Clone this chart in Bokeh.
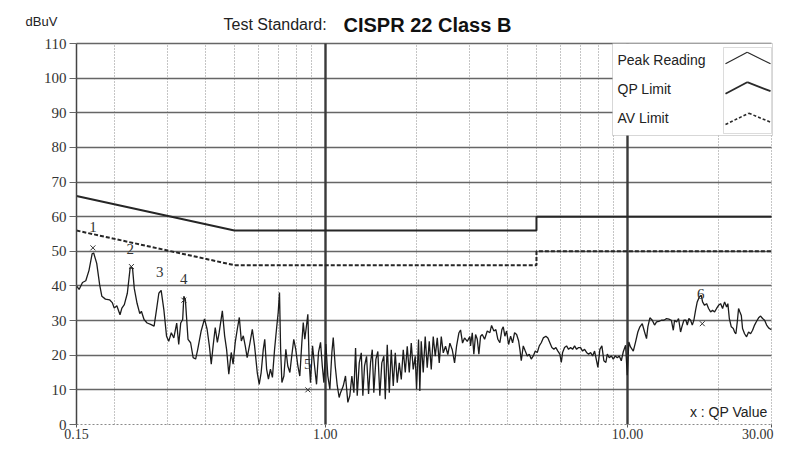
import math
from bokeh.plotting import figure
from bokeh.models import (FixedTicker, Grid, Label, BoxAnnotation, Arrow,
                          CustomJSTickFormatter)
from bokeh.core.properties import value
from bokeh.embed import file_html
from bokeh.resources import INLINE

# ---------------- data ----------------
freq_mhz = [
    0.150, 0.153, 0.157, 0.161, 0.165, 0.169, 0.171, 0.175, 0.179, 0.182, 0.187, 0.193,
    0.197, 0.200, 0.204, 0.209, 0.212, 0.216, 0.221, 0.226, 0.230, 0.233, 0.238, 0.243,
    0.246, 0.251, 0.257, 0.264, 0.271, 0.276, 0.281, 0.286, 0.292, 0.298, 0.303, 0.309,
    0.315, 0.322, 0.327, 0.332, 0.337, 0.340, 0.344, 0.351, 0.358, 0.365, 0.372, 0.378,
    0.388, 0.398,
    0.406, 0.413, 0.419, 0.425, 0.432, 0.439, 0.445, 0.456, 0.464, 0.471, 0.479, 0.488,
    0.495, 0.503, 0.511, 0.519, 0.527, 0.535, 0.543, 0.551, 0.562, 0.573, 0.583, 0.595,
    0.604, 0.613, 0.623, 0.630, 0.639, 0.648, 0.658, 0.668, 0.679, 0.689, 0.698, 0.705,
    0.711, 0.718, 0.729, 0.740, 0.751, 0.763, 0.774, 0.786, 0.798, 0.811, 0.823, 0.836,
    0.845, 0.855, 0.866, 0.875, 0.884, 0.893, 0.907, 0.921, 0.935, 0.949, 0.964, 0.977,
    0.989, 1.004, 1.019, 1.035, 1.051, 1.062, 1.078, 1.095, 1.111, 1.123,
    1.146, 1.166, 1.187, 1.205, 1.224, 1.243, 1.259, 1.275, 1.295, 1.315, 1.331, 1.348,
    1.369, 1.390, 1.411, 1.430, 1.447, 1.470, 1.492, 1.515, 1.538, 1.562, 1.579, 1.603,
    1.628, 1.653, 1.678, 1.704, 1.730, 1.757, 1.784, 1.811, 1.839, 1.867, 1.896, 1.925,
    1.954, 1.984, 2.004, 2.035, 2.055, 2.077, 2.109, 2.141, 2.174, 2.208, 2.242, 2.276,
    2.311, 2.347, 2.383, 2.420, 2.457, 2.500, 2.544, 2.584, 2.631, 2.678, 2.719, 2.767,
    2.803, 2.846, 2.890, 2.950, 3.009,
    3.025, 3.065, 3.102, 3.143, 3.184, 3.223, 3.265, 3.308, 3.367, 3.436, 3.505, 3.551,
    3.614, 3.669, 3.725, 3.783, 3.841, 3.882, 3.930, 3.981, 4.043, 4.105, 4.168, 4.232,
    4.298, 4.364, 4.406, 4.453, 4.521, 4.591, 4.661, 4.733, 4.805, 4.880, 4.955, 5.031,
    5.108, 5.186, 5.267, 5.372, 5.455, 5.538, 5.623, 5.710, 5.798, 5.887, 5.977, 6.042,
    6.102, 6.194, 6.289, 6.386, 6.485, 6.584, 6.686, 6.788, 6.894, 6.998, 7.106, 7.215,
    7.325, 7.440, 7.554, 7.670, 7.787, 7.907, 7.986, 8.108, 8.233, 8.359, 8.487, 8.579,
    8.710, 8.844, 8.981, 9.119, 9.259, 9.400, 9.544,
    9.692, 9.863, 9.991, 10.11, 10.24, 10.46, 10.64, 10.83, 11.00, 11.20, 11.40, 11.57,
    11.69, 11.87, 12.09, 12.30, 12.49, 12.71, 12.95, 13.21, 13.48, 13.72, 13.98, 14.19,
    14.33, 14.55, 14.77, 15.00, 15.15, 15.38, 15.62, 15.79, 15.98, 16.19, 16.40, 16.60,
    16.82, 17.03, 17.30, 17.56, 17.74, 18.01, 18.29, 18.57, 18.86, 19.14, 19.44, 19.74,
    20.04, 20.35, 20.66, 20.98, 21.30, 21.51, 21.75, 22.08, 22.42, 22.64, 22.87, 23.11,
    23.34, 23.58, 23.83, 24.06, 24.43, 24.81, 25.19, 25.58, 25.97, 26.37, 26.78, 27.19,
    27.61, 28.03, 28.46, 28.91, 29.34, 29.79, 30.00,
]
level_dbuv = [
    40.0, 39.0, 41.0, 41.5, 44.5, 49.3, 49.5, 46.5, 40.3, 37.0, 36.2, 36.0,
    35.2, 33.6, 34.3, 31.7, 33.6, 34.6, 37.9, 45.5, 45.0, 39.3, 35.0, 32.0,
    32.7, 30.3, 29.3, 28.9, 28.4, 33.1, 37.9, 38.7, 33.1, 25.5, 24.0, 26.5,
    25.0, 29.3, 23.1, 29.3, 30.3, 37.0, 36.0, 24.6, 23.6, 19.3, 18.9, 21.7,
    27.0, 30.5,
    27.5, 22.7, 17.4, 22.7, 28.0, 23.7, 26.5, 32.8, 25.6, 21.7, 14.5, 20.8,
    17.4, 23.7, 27.5, 30.9, 24.1, 25.6, 22.7, 19.3, 23.2, 27.5, 22.7, 15.0,
    11.6, 15.0, 21.7, 24.6, 16.0, 13.1, 16.0, 13.6, 21.7, 27.5, 32.3, 38.1,
    21.7, 12.1, 14.0, 21.7, 16.9, 15.0, 19.8, 24.6, 21.7, 16.9, 14.0, 23.7,
    29.4, 24.6, 28.5, 31.8, 17.9, 12.1, 22.7, 16.9, 11.6, 20.8, 23.7, 16.9,
    12.1, 23.2, 14.0, 10.2, 20.8, 25.1, 16.9, 11.2, 7.8, 9.2,
    11.1, 14.0, 6.4, 8.3, 14.0, 9.2, 22.1, 8.3, 17.8, 20.7, 8.3, 16.9,
    19.7, 8.8, 17.8, 21.6, 9.2, 18.8, 21.1, 8.3, 17.8, 19.7, 7.3, 23.0,
    9.2, 21.6, 11.1, 20.7, 12.1, 17.8, 13.0, 21.6, 15.0, 22.6, 15.0, 23.5,
    15.9, 19.7, 10.2, 24.5, 9.7, 24.0, 15.0, 25.4, 16.4, 24.0, 15.9, 25.4,
    19.7, 25.0, 17.8, 25.4, 20.7, 22.6, 20.2, 23.5, 21.6, 17.8, 22.6, 26.4,
    27.3, 23.5, 25.0, 24.0, 25.4,
    22.7, 26.5, 20.3, 26.0, 24.6, 20.3, 25.5, 26.0, 24.6, 27.0, 26.5, 28.6,
    27.0, 27.4, 24.6, 23.6, 27.4, 28.2, 25.5, 27.0, 23.1, 25.5, 23.6, 26.5,
    26.0, 24.1, 21.7, 18.4, 22.7, 21.2, 19.8, 20.3, 18.9, 19.8, 21.2, 20.8,
    22.7, 23.6, 25.0, 25.5, 25.0, 23.6, 22.2, 21.7, 22.2, 21.2, 20.3, 17.9,
    20.8, 22.2, 22.7, 21.7, 22.2, 21.7, 22.7, 21.7, 22.2, 22.2, 21.2, 21.7,
    20.8, 20.3, 20.8, 19.8, 21.2, 18.4, 16.5, 21.7, 22.7, 18.4, 17.9, 20.3,
    19.3, 19.8, 18.9, 19.8, 19.3, 19.8, 18.4,
    21.0, 22.9, 14.2, 23.8, 22.4, 21.2, 23.8, 26.7, 28.2, 29.1, 26.7, 24.8,
    28.2, 30.8, 30.1, 28.7, 29.6, 29.8, 30.1, 30.1, 30.6, 30.4, 30.1, 27.2,
    30.1, 29.6, 30.6, 26.7, 28.2, 30.1, 30.1, 28.7, 30.6, 30.1, 28.7, 30.1,
    33.0, 35.4, 36.8, 37.3, 35.4, 34.4, 34.9, 33.5, 32.5, 33.0, 32.5, 33.5,
    34.4, 34.9, 33.5, 35.4, 33.9, 34.9, 30.6, 28.2, 27.7, 26.7, 26.2, 29.6,
    33.5, 32.5, 31.5, 27.7, 26.2, 25.3, 26.7, 26.2, 27.2, 28.7, 29.8, 30.8,
    31.3, 30.6, 30.1, 28.7, 27.9, 27.5, 27.5,
]

qp_limit_freq = [0.15, 0.5, 5.0, 5.0, 30.0]
qp_limit_level = [66.0, 56.0, 56.0, 60.0, 60.0]
av_limit_freq = [0.15, 0.5, 5.0, 5.0, 30.0]
av_limit_level = [56.0, 46.0, 46.0, 50.0, 50.0]

qp_freq = [0.170, 0.228, 0.340, 0.875, 17.7]
qp_level = [51.0, 45.6, 35.9, 10.0, 29.1]

mark_freq = [0.170, 0.226, 0.283, 0.340, 0.875, 17.5]
mark_level = [56.9, 50.6, 44.0, 42.1, 17.5, 37.8]
mark_text = ["1", "2", "3", "4", "5", "6"]

y_ticks = [0, 10, 20, 30, 40, 50, 60, 70, 80, 90, 100, 110]
x_ticks = [0.15, 1.0, 10.0, 30.0]
x_last_label = ["30.00"]
x_minor_grid = [0.2, 0.3, 0.4, 0.5, 0.6, 0.7, 0.8, 0.9,
                2, 3, 4, 5, 6, 7, 8, 9, 20, 30]
x_major_grid = [1.0, 10.0]

legend_items = ["Peak Reading", "QP Limit", "AV Limit"]

# ---------------- layout constants (pixels) ----------------
W, H = 774, 441
X_LEFT_PX, X_RIGHT_PX = 76, 771      # where 0.15 MHz and 30 MHz sit
Y_TOP_PX, Y_ZERO_PX = 43, 424        # where 110 dBuV and 0 dBuV sit

x_lo, x_hi = x_ticks[0], x_ticks[-1]
y_lo, y_hi = y_ticks[0], y_ticks[-1]
dec_px = (X_RIGHT_PX - X_LEFT_PX) / (math.log10(x_hi) - math.log10(x_lo))
unit_px = (Y_ZERO_PX - Y_TOP_PX) / (y_hi - y_lo)
xr = (10 ** (math.log10(x_lo) - X_LEFT_PX / dec_px),
      10 ** (math.log10(x_hi) + (W - X_RIGHT_PX) / dec_px))
yr = (y_lo - (H - Y_ZERO_PX) / unit_px, y_hi + Y_TOP_PX / unit_px)

p = figure(width=W, height=H, x_axis_type="log", x_range=xr, y_range=yr,
           output_backend="svg", toolbar_location=None,
           min_border=0, min_border_left=0, min_border_right=0,
           min_border_top=0, min_border_bottom=0)
p.title.visible = False
p.background_fill_color = "white"
p.border_fill_color = "white"
p.outline_line_color = None

# grids (limited to the chart box)
p.ygrid.ticker = FixedTicker(ticks=y_ticks[1:])
p.ygrid.grid_line_color = "#666666"
p.ygrid.grid_line_width = 1.5
p.ygrid.cross_bounds = (x_lo, x_hi)
p.xgrid.ticker = FixedTicker(ticks=x_minor_grid)
p.xgrid.grid_line_color = "#8a8a8a"
p.xgrid.grid_line_dash = "1 2"
p.xgrid.grid_line_width = 1
p.xgrid.cross_bounds = (y_lo, y_hi)
p.add_layout(Grid(dimension=0, ticker=FixedTicker(ticks=x_major_grid),
                  cross_bounds=(y_lo, y_hi),
                  grid_line_color="#3a3a3a", grid_line_width=2.4))

# axes drawn at the chart's edges
p.xaxis.fixed_location = y_lo
p.xaxis.bounds = (x_lo, x_hi)
p.xaxis.ticker = FixedTicker(ticks=x_ticks)
p.xaxis.formatter = CustomJSTickFormatter(code="return tick > 29 ? '' : tick.toFixed(2);")
p.xaxis.axis_line_color = "#8a8a8a"
p.xaxis.axis_line_dash = "2 2"
p.xaxis.major_tick_out = 3
p.xaxis.major_tick_in = 0
p.xaxis.major_tick_line_color = "#555555"
p.xaxis.minor_tick_line_color = None
p.xaxis.major_label_standoff = 1
p.xaxis.major_label_text_font = "Liberation Serif"
p.xaxis.major_label_text_font_size = "14px"
p.xaxis.major_label_text_color = "#333333"

p.yaxis.fixed_location = x_lo
p.yaxis.bounds = (y_lo, y_hi)
p.yaxis.ticker = FixedTicker(ticks=y_ticks)
p.yaxis.axis_line_color = "#444444"
p.yaxis.axis_line_width = 1.5
p.yaxis.major_tick_out = 7
p.yaxis.major_tick_in = 0
p.yaxis.major_tick_line_color = "#666666"
p.yaxis.minor_tick_line_color = None
p.yaxis.major_label_standoff = 3
p.yaxis.major_label_text_font = "Liberation Serif"
p.yaxis.major_label_text_font_size = "15px"
p.yaxis.major_label_text_color = "#333333"

# last x tick label, right-aligned so it stays on the canvas
p.text(x_ticks[-1:], [y_lo], text=x_last_label, text_font=value("Liberation Serif"),
       text_font_size="14px", text_color="#333333", text_align="right",
       text_baseline="top", x_offset=2, y_offset=4)

# data
p.line(qp_limit_freq, qp_limit_level, line_color="#262626", line_width=2)
p.line(av_limit_freq, av_limit_level, line_color="#262626", line_width=2, line_dash="4 2")
p.line(freq_mhz, level_dbuv, line_color="#1c1c1c", line_width=1.3)
p.scatter(qp_freq, qp_level, marker="x", size=7, line_color="#333333", line_width=1)
p.text(mark_freq, mark_level, text=mark_text, text_font=value("Liberation Serif"),
       text_font_size="15px", text_color="#333333", text_align="center",
       text_baseline="middle")

# header texts (screen units: y measured up from the canvas bottom)
def sy(y_px):
    return H - y_px

p.add_layout(Label(x=25, y=sy(21), x_units="screen", y_units="screen", text="dBuV",
                   text_font="Liberation Sans", text_font_size="13px",
                   text_baseline="middle", text_color="#222222"))
p.add_layout(Label(x=223, y=sy(24), x_units="screen", y_units="screen",
                   text="Test Standard:", text_font="Liberation Sans",
                   text_font_size="16px", text_baseline="middle", text_color="#222222"))
p.add_layout(Label(x=343, y=sy(24), x_units="screen", y_units="screen",
                   text="CISPR 22 Class B", text_font="Liberation Sans",
                   text_font_style="bold", text_font_size="20px",
                   text_baseline="middle", text_color="#111111"))

# legend box
p.add_layout(BoxAnnotation(left=612, right=772, bottom=sy(135), top=sy(43),
                           left_units="screen", right_units="screen",
                           bottom_units="screen", top_units="screen",
                           fill_color="white", fill_alpha=1.0,
                           line_color="#7a7a7a", line_width=1))
p.add_layout(BoxAnnotation(left=723, right=771, bottom=sy(133), top=sy(47),
                           left_units="screen", right_units="screen",
                           bottom_units="screen", top_units="screen",
                           fill_alpha=0.0, line_color="#8a8a8a", line_width=1))
legend_y = [59.5, 88.5, 117.5]
for txt, ly in zip(legend_items, legend_y):
    p.add_layout(Label(x=617, y=sy(ly), x_units="screen", y_units="screen", text=txt,
                       text_font="Liberation Sans", text_font_size="14px",
                       text_baseline="middle", text_color="#222222"))
carets = [
    ((725, 63.3), (746.7, 51.7), (770, 63.3), "solid", 1.2),
    ((725, 93.3), (746.7, 81.7), (770, 90.7), "solid", 1.8),
    ((725, 124.0), (748.3, 112.7), (770, 121.7), "3 2", 1.6),
]
for a, b, c, dash, w in carets:
    for s, e in ((a, b), (b, c)):
        p.add_layout(Arrow(x_start=s[0], y_start=sy(s[1]), x_end=e[0], y_end=sy(e[1]),
                           start_units="screen", end_units="screen", end=None,
                           line_color="#2a2a2a", line_width=w, line_dash=dash))

p.add_layout(Label(x=767, y=sy(411), x_units="screen", y_units="screen",
                   text="x : QP Value", text_font="Liberation Sans",
                   text_font_size="14px", text_align="right",
                   text_baseline="middle", text_color="#222222"))

open("out.html", "w").write(file_html(p, INLINE))
